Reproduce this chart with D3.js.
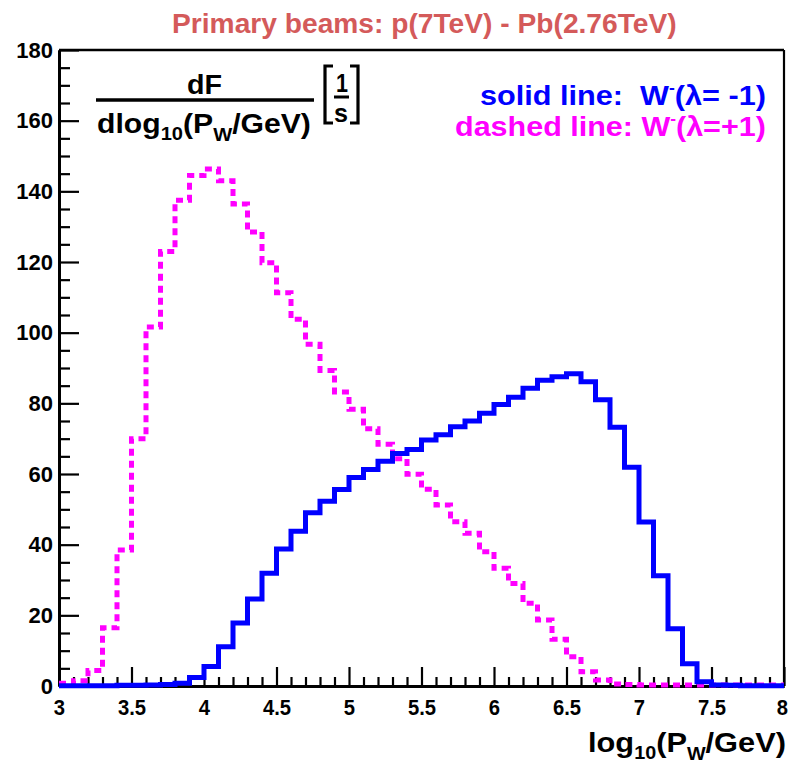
<!DOCTYPE html>
<html>
<head>
<meta charset="utf-8">
<script src="https://cdn.jsdelivr.net/npm/d3@7"></script>
<style>
  html, body { margin: 0; padding: 0; background: #fff; }
  svg { display: block; }
</style>
</head>
<body>
<svg id="chart" width="789" height="765"></svg>
<script>
// Histogram binning: 50 bins of width 0.1 in log10(P_W/GeV), from 3 to 8
const binLow = 3.0;
const binWidth = 0.1;

// W- with helicity -1 (solid blue), dF/dlog10 per bin [1/s]
const solidMinus = [
  0.1, 0.1, 0.1, 0.1, 0.2, 0.2, 0.3, 0.4, 0.8, 2.4,
  5.5, 11.1, 17.8, 24.6, 31.9, 38.8, 43.8, 49.0, 52.3, 55.6,
  59.0, 61.3, 63.6, 65.8, 66.9, 69.6, 71.1, 73.4, 75.0, 77.2,
  79.7, 81.7, 84.3, 86.5, 87.5, 88.4, 86.1, 81.0, 73.2, 61.9,
  46.4, 31.2, 16.2, 6.3, 1.2, 0.3, 0.2, 0.1, 0.1, 0.1
];

// W- with helicity +1 (dashed magenta)
const dashedPlus = [
  0.8, 1.5, 4.4, 16.5, 38.5, 70.0, 101.6, 123.0, 137.5, 144.5,
  146.3, 143.0, 136.4, 128.5, 119.8, 111.3, 103.8, 96.7, 89.3, 83.2,
  78.3, 72.8, 68.4, 64.3, 59.9, 55.7, 51.2, 46.5, 43.2, 38.0,
  33.3, 29.0, 23.4, 18.7, 13.2, 8.3, 4.0, 1.7, 0.6, 0.4,
  0.3, 0.3, 0.3, 0.3, 0.3, 0.3, 0.3, 0.3, 0.3, 0.3
];

const xTicks = [3, 3.5, 4, 4.5, 5, 5.5, 6, 6.5, 7, 7.5, 8];
const yTicks = [0, 20, 40, 60, 80, 100, 120, 140, 160, 180];

const FONT = "'Liberation Sans', Arial, Helvetica, sans-serif";
const BLUE = "#0000ff";
const MAGENTA = "#ff00ff";

const svg = d3.select("#chart");

const x = d3.scaleLinear().domain([3, 8]).range([59, 784]);
const y = d3.scaleLinear().domain([0, 180]).range([686, 50]);

// ---- axes -----------------------------------------------------------
const xMinor = d3.range(51).map(i => binLow + i * binWidth)
  .filter(v => Math.abs(v * 2 - Math.round(v * 2)) > 1e-6);
const yMinor = d3.range(0, 181, 5).filter(v => v % 20 !== 0);

function styleAxis(g) {
  g.select(".domain").attr("stroke", "#000").attr("stroke-width", 3);
  g.selectAll(".tick line").attr("stroke", "#000").attr("stroke-width", 2.2);
  g.selectAll(".tick text")
    .attr("fill", "#000")
    .style("font-family", FONT)
    .style("font-weight", "bold")
    .style("font-size", "22px");
}

svg.append("g")
  .attr("transform", `translate(0,${y(0)})`)
  .call(d3.axisBottom(x).tickValues(xMinor).tickSize(-9).tickSizeOuter(0).tickFormat(""))
  .call(styleAxis);

const xAxisG = svg.append("g")
  .attr("transform", `translate(0,${y(0)})`)
  .call(d3.axisBottom(x).tickValues(xTicks).tickSize(-19).tickSizeOuter(0)
    .tickPadding(13).tickFormat(d => String(d)))
  .call(styleAxis);
// slightly narrower digits; keep the last label inside the page
xAxisG.selectAll(".tick text")
  .attr("transform", d => d === 8 ? "translate(-2,0) scale(0.92,1)" : "scale(0.92,1)");

svg.append("g")
  .attr("transform", `translate(${x(3)},0)`)
  .call(d3.axisLeft(y).tickValues(yMinor).tickSize(-11).tickSizeOuter(0).tickFormat(""))
  .call(styleAxis);

svg.append("g")
  .attr("transform", `translate(${x(3)},0)`)
  .call(d3.axisLeft(y).tickValues(yTicks).tickSize(-20).tickSizeOuter(0)
    .tickPadding(6).tickFormat(d => String(d)))
  .call(styleAxis);

// top and right edges of the frame
svg.append("line")
  .attr("x1", x(3)).attr("x2", x(8)).attr("y1", y(180)).attr("y2", y(180))
  .attr("stroke", "#000").attr("stroke-width", 2.6);
svg.append("line")
  .attr("x1", x(8)).attr("x2", x(8)).attr("y1", y(180)).attr("y2", y(0))
  .attr("stroke", "#000").attr("stroke-width", 2.2);

// ---- histograms -----------------------------------------------------
svg.append("clipPath").attr("id", "frameClip")
  .append("rect")
  .attr("x", x(3)).attr("y", y(180))
  .attr("width", x(8) - x(3)).attr("height", y(0) - y(180) + 4);

function stepPoints(values) {
  const pts = values.map((v, i) => [binLow + i * binWidth, v]);
  pts.push([binLow + values.length * binWidth, values[values.length - 1]]);
  return pts;
}

const stepLine = d3.line()
  .x(d => x(d[0]))
  .y(d => y(d[1]))
  .curve(d3.curveStepAfter);

const hist = svg.append("g").attr("clip-path", "url(#frameClip)");

hist.append("path")
  .attr("d", stepLine(stepPoints(dashedPlus)))
  .attr("fill", "none")
  .attr("stroke", MAGENTA)
  .attr("stroke-width", 5)
  .attr("stroke-dasharray", "7,5");

hist.append("path")
  .attr("d", stepLine(stepPoints(solidMinus)))
  .attr("fill", "none")
  .attr("stroke", BLUE)
  .attr("stroke-width", 5)
  .attr("stroke-linejoin", "miter");

// ---- text helpers ---------------------------------------------------
// parts: [{t, size, dy}] ; text is squeezed/stretched to span x0..x1
function fittedText(parts, x0, x1, baseline, size, color, weight) {
  const g = svg.append("g");
  const t = g.append("text")
    .attr("x", 0).attr("y", 0)
    .style("font-family", FONT)
    .style("font-weight", weight || "bold")
    .style("font-size", size + "px")
    .style("white-space", "pre")
    .attr("fill", color);
  parts.forEach(p => {
    const s = t.append("tspan").text(p.t);
    if (p.size) s.style("font-size", p.size + "px");
    if (p.dy) s.attr("dy", p.dy);
  });
  const bb = t.node().getBBox();
  const sx = (x1 - x0) / bb.width;
  g.attr("transform", `translate(${x0 - bb.x * sx},${baseline}) scale(${sx},1)`);
  return g;
}

// title
fittedText([{ t: "Primary beams: p(7TeV) - Pb(2.76TeV)" }], 172, 677, 33, 28, "#d45a5a");

// legend
fittedText([
  { t: "solid line:  W" },
  { t: "-", size: 16, dy: -12 },
  { t: "(\u03bb= -1)", size: 28, dy: 12 }
], 480, 766, 105, 28, BLUE);

fittedText([
  { t: "dashed line: W" },
  { t: "-", size: 16, dy: -12 },
  { t: "(\u03bb=+1)", size: 28, dy: 12 }
], 455, 766, 136, 28, MAGENTA);

// y-axis quantity: dF / dlog10(P_W/GeV) [1/s]
fittedText([{ t: "dF" }], 187, 222, 94, 27, "#000");
svg.append("line")
  .attr("x1", 96).attr("x2", 314).attr("y1", 100).attr("y2", 100)
  .attr("stroke", "#000").attr("stroke-width", 3.5);
fittedText([
  { t: "dlog" },
  { t: "10", size: 18, dy: 7 },
  { t: "(P", size: 27, dy: -7 },
  { t: "W", size: 18, dy: 8 },
  { t: "/GeV)", size: 27, dy: -8 }
], 97, 311, 133, 27, "#000");

// bracketed unit 1/s
const br = svg.append("g").attr("fill", "none").attr("stroke", "#000").attr("stroke-width", 3.2);
br.append("path").attr("d", "M333,66 H325 V123 H333");
br.append("path").attr("d", "M350,66 H358 V123 H350");
svg.append("line")
  .attr("x1", 334).attr("x2", 349).attr("y1", 97).attr("y2", 97)
  .attr("stroke", "#000").attr("stroke-width", 3);
fittedText([{ t: "1" }], 336, 348, 92, 26, "#000");
fittedText([{ t: "s" }], 334, 348, 122, 26, "#000");

// x-axis title
fittedText([
  { t: "log" },
  { t: "10", size: 18, dy: 7 },
  { t: "(P", size: 28, dy: -7 },
  { t: "W", size: 18, dy: 8 },
  { t: "/GeV)", size: 28, dy: -8 }
], 588, 786, 752, 28, "#000");
</script>
</body>
</html>
